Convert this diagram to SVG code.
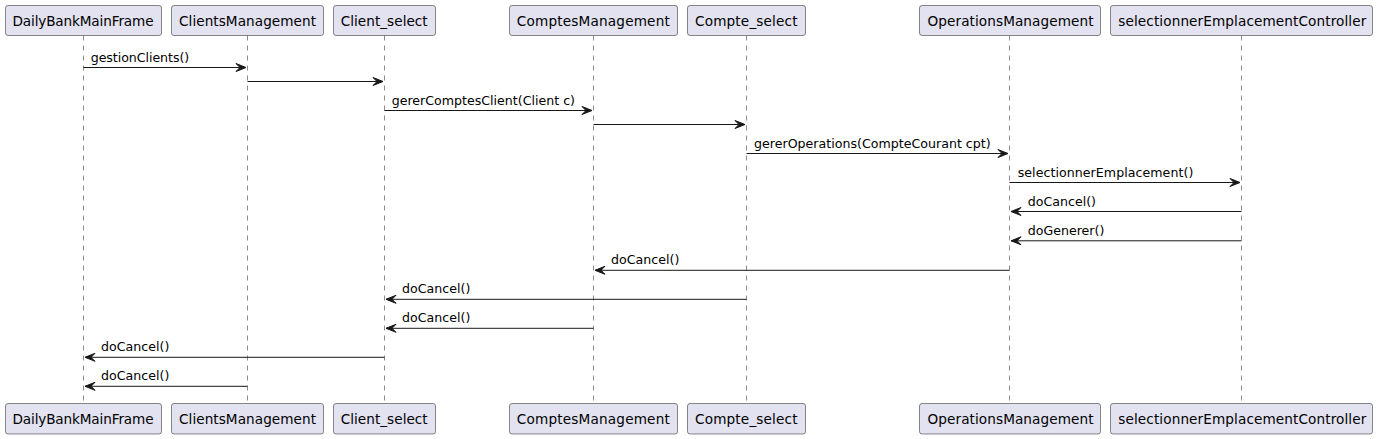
<svg xmlns="http://www.w3.org/2000/svg" width="1377" height="439" viewBox="0 0 1377 439">
<style>
.box{fill:#E2E2F0;stroke:#181818;stroke-width:0.5}
.pt{font-family:"DejaVu Sans",sans-serif;font-size:13.6px;fill:#000;text-anchor:middle}
.life{stroke:#181818;stroke-width:0.5;stroke-dasharray:5,5;fill:none}
.msg{stroke:#181818;stroke-width:1;fill:none}
.head{fill:#181818;stroke:#181818;stroke-width:1}
.mt{font-family:"DejaVu Sans",sans-serif;font-size:12.6px;fill:#000}
</style>
<rect width="1377" height="439" fill="#FFFFFF"/>
<g id="lifelines">
<line class="life" x1="83.5" y1="35.5" x2="83.5" y2="403.5"/>
<line class="life" x1="247.5" y1="35.5" x2="247.5" y2="403.5"/>
<line class="life" x1="384.5" y1="35.5" x2="384.5" y2="403.5"/>
<line class="life" x1="593.5" y1="35.5" x2="593.5" y2="403.5"/>
<line class="life" x1="746.5" y1="35.5" x2="746.5" y2="403.5"/>
<line class="life" x1="1009.5" y1="35.5" x2="1009.5" y2="403.5"/>
<line class="life" x1="1241.5" y1="35.5" x2="1241.5" y2="403.5"/>
</g>
<g id="DailyBankMainFrame">
<rect class="box" x="5.5" y="5.5" width="156" height="30" rx="2.5"/><text class="pt" x="83" y="25.5" textLength="141">DailyBankMainFrame</text>
<rect class="box" x="5.5" y="403.5" width="156" height="30.5" rx="2.5"/><text class="pt" x="83" y="424" textLength="141">DailyBankMainFrame</text>
</g>
<g id="ClientsManagement">
<rect class="box" x="171.5" y="5.5" width="152" height="30" rx="2.5"/><text class="pt" x="247.5" y="25.5" textLength="137">ClientsManagement</text>
<rect class="box" x="171.5" y="403.5" width="152" height="30.5" rx="2.5"/><text class="pt" x="247.5" y="424" textLength="137">ClientsManagement</text>
</g>
<g id="Client_select">
<rect class="box" x="333.5" y="5.5" width="102" height="30" rx="2.5"/><text class="pt" x="384.2" y="25.5" textLength="87">Client_select</text>
<rect class="box" x="333.5" y="403.5" width="102" height="30.5" rx="2.5"/><text class="pt" x="384.2" y="424" textLength="87">Client_select</text>
</g>
<g id="ComptesManagement">
<rect class="box" x="509.5" y="5.5" width="168" height="30" rx="2.5"/><text class="pt" x="593.3" y="25.5" textLength="153">ComptesManagement</text>
<rect class="box" x="509.5" y="403.5" width="168" height="30.5" rx="2.5"/><text class="pt" x="593.3" y="424" textLength="153">ComptesManagement</text>
</g>
<g id="Compte_select">
<rect class="box" x="687.5" y="5.5" width="118" height="30" rx="2.5"/><text class="pt" x="746.3" y="25.5" textLength="102.5">Compte_select</text>
<rect class="box" x="687.5" y="403.5" width="118" height="30.5" rx="2.5"/><text class="pt" x="746.3" y="424" textLength="102.5">Compte_select</text>
</g>
<g id="OperationsManagement">
<rect class="box" x="919.5" y="5.5" width="181" height="30" rx="2.5"/><text class="pt" x="1010.5" y="25.5" textLength="166">OperationsManagement</text>
<rect class="box" x="919.5" y="403.5" width="181" height="30.5" rx="2.5"/><text class="pt" x="1010.5" y="424" textLength="166">OperationsManagement</text>
</g>
<g id="selectionnerEmplacementController">
<rect class="box" x="1110.5" y="5.5" width="262" height="30" rx="2.5"/><text class="pt" x="1242.3" y="25.5" textLength="248">selectionnerEmplacementController</text>
<rect class="box" x="1110.5" y="403.5" width="262" height="30.5" rx="2.5"/><text class="pt" x="1242.3" y="424" textLength="248">selectionnerEmplacementController</text>
</g>
<g id="connectors">
<line class="msg" x1="83.5" y1="67.5" x2="246" y2="67.5"/><polygon class="head" points="236,63.5 246,67.5 236,71.5 240,67.5"/>
<text class="mt" x="90.7" y="61.5" textLength="98.5">gestionClients()</text>
<line class="msg" x1="247.5" y1="81.5" x2="383" y2="81.5"/><polygon class="head" points="373,77.5 383,81.5 373,85.5 377,81.5"/>
<line class="msg" x1="384.5" y1="110.5" x2="592" y2="110.5"/><polygon class="head" points="582,106.5 592,110.5 582,114.5 586,110.5"/>
<text class="mt" x="391.7" y="104.5" textLength="183.3">gererComptesClient(Client c)</text>
<line class="msg" x1="593.5" y1="124.5" x2="745" y2="124.5"/><polygon class="head" points="735,120.5 745,124.5 735,128.5 739,124.5"/>
<line class="msg" x1="746.5" y1="153.5" x2="1008" y2="153.5"/><polygon class="head" points="998,149.5 1008,153.5 998,157.5 1002,153.5"/>
<text class="mt" x="754" y="147.5" textLength="236.7">gererOperations(CompteCourant cpt)</text>
<line class="msg" x1="1009.5" y1="182.5" x2="1240" y2="182.5"/><polygon class="head" points="1230,178.5 1240,182.5 1230,186.5 1234,182.5"/>
<text class="mt" x="1017.7" y="176.5" textLength="175.6">selectionnerEmplacement()</text>
<line class="msg" x1="1011" y1="211.5" x2="1241.5" y2="211.5"/><polygon class="head" points="1021,207.5 1011,211.5 1021,215.5 1017,211.5"/>
<text class="mt" x="1027.7" y="205.5" textLength="68.3">doCancel()</text>
<line class="msg" x1="1011" y1="240.8" x2="1241.5" y2="240.8"/><polygon class="head" points="1021,236.8 1011,240.8 1021,244.8 1017,240.8"/>
<text class="mt" x="1027.7" y="234.8" textLength="76.6">doGenerer()</text>
<line class="msg" x1="595" y1="270.3" x2="1009.5" y2="270.3"/><polygon class="head" points="605,266.3 595,270.3 605,274.3 601,270.3"/>
<text class="mt" x="611" y="264.3" textLength="68.3">doCancel()</text>
<line class="msg" x1="386" y1="299.3" x2="746.5" y2="299.3"/><polygon class="head" points="396,295.3 386,299.3 396,303.3 392,299.3"/>
<text class="mt" x="402" y="293.3" textLength="68.3">doCancel()</text>
<line class="msg" x1="386" y1="328.3" x2="593.5" y2="328.3"/><polygon class="head" points="396,324.3 386,328.3 396,332.3 392,328.3"/>
<text class="mt" x="402" y="322.3" textLength="68.3">doCancel()</text>
<line class="msg" x1="85" y1="357.3" x2="384.5" y2="357.3"/><polygon class="head" points="95,353.3 85,357.3 95,361.3 91,357.3"/>
<text class="mt" x="101" y="351.3" textLength="68.3">doCancel()</text>
<line class="msg" x1="85" y1="386.3" x2="247.5" y2="386.3"/><polygon class="head" points="95,382.3 85,386.3 95,390.3 91,386.3"/>
<text class="mt" x="101" y="380.3" textLength="68.3">doCancel()</text>
</g>
</svg>
